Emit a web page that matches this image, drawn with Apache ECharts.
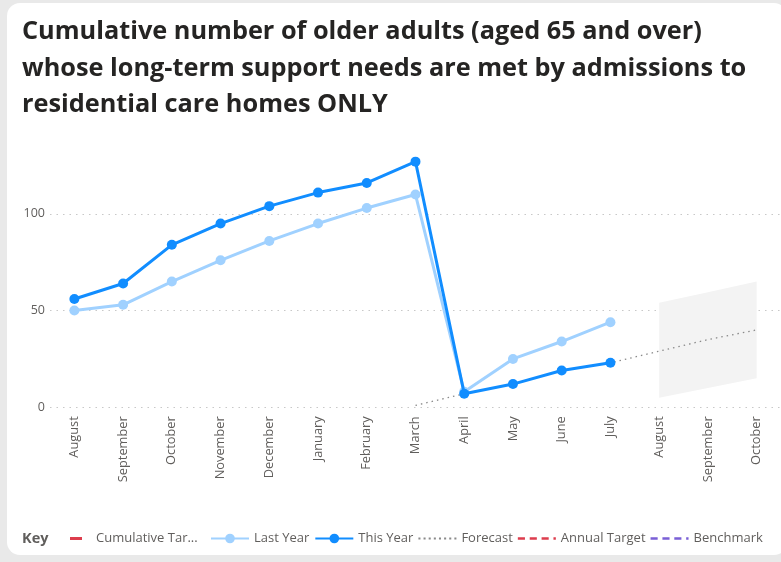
<!DOCTYPE html>
<html>
<head>
<meta charset="utf-8">
<script src="https://cdn.jsdelivr.net/npm/echarts@6/dist/echarts.min.js"></script>
<style>
  html, body { margin: 0; padding: 0; width: 781px; height: 562px; background: #e9e9e9; overflow: hidden; }
  #card { position: absolute; left: 7px; top: 3px; width: 780px; height: 552px; background: #fff; border-radius: 13px; }
  #chart { position: absolute; left: 0; top: 0; width: 781px; height: 562px; }
</style>
</head>
<body>
<div id="card"></div>
<div id="chart"></div>
<script>
const titleText = 'Cumulative number of older adults (aged 65 and over)\nwhose long-term support needs are met by admissions to\nresidential care homes ONLY';
const months = ['August','September','October','November','December','January','February','March','April','May','June','July','August','September','October'];
const lastYear = [50, 53, 65, 76, 86, 95, 103, 110, 8, 25, 34, 44, null, null, null];
const thisYear = [56, 64, 84, 95, 104, 111, 116, 127, 7, 12, 19, 23, null, null, null];
const forecast = [null, null, null, null, null, null, null, 1, 7, 12, 19, 23, 29, 35, 40];
const forecastLower = [null, null, null, null, null, null, null, null, null, null, null, null, 5, 10, 15];
const forecastUpper = [null, null, null, null, null, null, null, null, null, null, null, null, 54, 59.5, 65];
const cumulativeTarget = [];
const annualTarget = [];
const benchmark = [];
const yTicks = [0, 50, 100];

const bandRange = forecastUpper.map((u, i) => (u == null || forecastLower[i] == null) ? null : u - forecastLower[i]);

const FONT = 'Open Sans';
const ICON_SOLID_SHORT = 'path://M0,0h12v3h-12z';
const ICON_DOTTED = 'path://M0,0h2v2h-2z M5,0h2v2h-2z M10,0h2v2h-2z M15,0h2v2h-2z M20,0h2v2h-2z M25,0h2v2h-2z M30,0h2v2h-2z M35,0h2v2h-2z';
const ICON_DASHED = 'path://M0,0h6v2h-6z M10,0h6v2h-6z M20,0h6v2h-6z M30,0h2v2h-2z';

const chart = echarts.init(document.getElementById('chart'), null, { renderer: 'canvas' });
chart.setOption({
  backgroundColor: 'transparent',
  animation: false,
  textStyle: { fontFamily: FONT },
  title: [
    {
      text: titleText, left: 17, top: 9,
      textStyle: { fontFamily: FONT, fontWeight: 'bold', fontSize: 25.3, lineHeight: 36.5, color: '#252423' }
    },
    {
      text: 'Key', left: 17, top: 526,
      textStyle: { fontFamily: FONT, fontWeight: 'bold', fontSize: 14.5, color: '#605e5c' }
    }
  ],
  legend: [
    {
      left: 65, top: 527, itemWidth: 12, itemHeight: 12,
      data: [{ name: 'Cumulative Target', icon: ICON_SOLID_SHORT, textStyle: { width: 110, overflow: 'truncate', ellipsis: '...' } }],
      textStyle: { fontFamily: FONT, fontSize: 13, color: '#605e5c', padding: [0, 0, 0, 9] }
    },
    {
      left: 205, top: 527, itemWidth: 38, itemHeight: 12, itemGap: 5,
      data: [
        'Last Year', 'This Year',
        { name: 'Forecast', icon: ICON_DOTTED },
        { name: 'Annual Target', icon: ICON_DASHED },
        { name: 'Benchmark', icon: ICON_DASHED }
      ],
      textStyle: { fontFamily: FONT, fontSize: 13, color: '#605e5c' }
    }
  ],
  grid: { left: 50, right: 0, top: 136.5, bottom: 154.7, containLabel: false },
  xAxis: {
    type: 'category',
    data: months,
    boundaryGap: true,
    axisLine: { show: false },
    axisTick: { show: false },
    axisLabel: { rotate: 90, color: '#605e5c', fontSize: 12.8, fontFamily: FONT, margin: 9, interval: 0 }
  },
  yAxis: {
    type: 'value', min: 0, max: 140, interval: 50,
    axisLine: { show: false }, axisTick: { show: false },
    axisLabel: {
      color: '#605e5c', fontSize: 12.5, fontFamily: FONT, margin: 5, showMaxLabel: false,
      formatter: v => yTicks.includes(v) ? String(v) : ''
    },
    splitLine: { show: true, showMaxLine: false, lineStyle: { type: [1.5, 5], color: '#c8c8c8', width: 1.2 } }
  },
  series: [
    {
      name: 'bandBase', type: 'line', data: forecastLower, stack: 'band',
      symbol: 'none', lineStyle: { opacity: 0 }, silent: true, z: 1
    },
    {
      name: 'bandRange', type: 'line', data: bandRange, stack: 'band',
      symbol: 'none', lineStyle: { opacity: 0 }, areaStyle: { color: '#f3f3f3', opacity: 1 }, silent: true, z: 1
    },
    {
      name: 'Cumulative Target', type: 'line', data: cumulativeTarget, symbol: 'none',
      color: '#dd3d4d', lineStyle: { color: '#dd3d4d', width: 3 }
    },
    {
      name: 'Forecast', type: 'line', data: forecast, symbol: 'none', connectNulls: false,
      color: '#8a8a8a', lineStyle: { color: '#8a8a8a', width: 1.3, type: [1.5, 4] }, z: 2
    },
    {
      name: 'Annual Target', type: 'line', data: annualTarget, symbol: 'none',
      color: '#dd3d4d', lineStyle: { color: '#dd3d4d', width: 2, type: [5, 4] }
    },
    {
      name: 'Benchmark', type: 'line', data: benchmark, symbol: 'none',
      color: '#7a5fd6', lineStyle: { color: '#7a5fd6', width: 2, type: [5, 4] }
    },
    {
      name: 'Last Year', type: 'line', data: lastYear, symbol: 'circle', symbolSize: 10,
      color: '#a0d1ff', lineStyle: { color: '#a0d1ff', width: 3 }, itemStyle: { color: '#a0d1ff' }, z: 3
    },
    {
      name: 'This Year', type: 'line', data: thisYear, symbol: 'circle', symbolSize: 10,
      color: '#118dff', lineStyle: { color: '#118dff', width: 3 }, itemStyle: { color: '#118dff' }, z: 4
    }
  ]
});
</script>
</body>
</html>
